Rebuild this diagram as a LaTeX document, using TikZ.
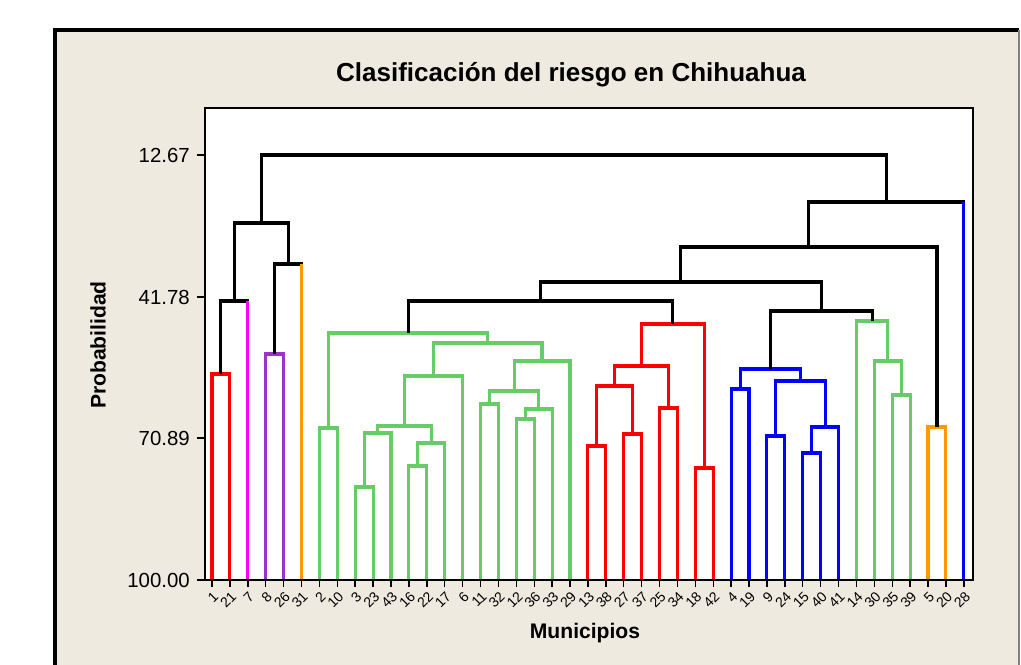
\documentclass[tikz,border=0pt]{standalone}
\usepackage{fontspec}
\setmainfont{Liberation Sans}
\usetikzlibrary{calc}
\definecolor{dgreen}{RGB}{102,204,102}
\definecolor{dred}{RGB}{255,0,0}
\definecolor{dmag}{RGB}{255,0,255}
\definecolor{dpur}{RGB}{153,51,204}
\definecolor{dora}{RGB}{255,153,0}
\definecolor{dblue}{RGB}{0,0,255}
\definecolor{framebg}{RGB}{238,234,224}
\newcommand\mrg[5]{%
  \coordinate (tmp) at ($(#2)!.5!(#3)$);
  \coordinate (#1) at (tmp |- 0,#4);
  \draw[link,#5] (#2) |- (#1) -| (#3);}
\begin{document}
\begin{tikzpicture}[x={(0.025cm,0)},y={(0,-0.025cm)},
  link/.style={line width=2.2pt},
  tick/.style={line width=1pt,black},
  xlab/.style={font=\fontsize{10}{10}\selectfont,rotate=45,anchor=east,inner sep=0pt},
  ylab/.style={font=\fontsize{14.5}{16}\selectfont,anchor=east,inner sep=0pt},
  axtitle/.style={font=\bfseries\fontsize{15}{17}\selectfont,inner sep=0pt}]
\useasboundingbox (0,0) rectangle (1021,665);
\fill[white] (0,0) rectangle (1021,665);
% outer frame
\fill[framebg] (55,30) rectangle (1019,665);
\draw[line width=2.2pt,black] (55,665) -- (55,30) -- (1019,30);
\draw[line width=0.8pt,gray] (1019,30) -- (1019,665);
% title
\node[font=\bfseries\fontsize{18.5}{20}\selectfont] (title) at (571,75) {Clasificación del riesgo en Chihuahua};
% plot area
\fill[white] (205,108) rectangle (973,580);
\draw[line width=1.2pt,black] (205,108) rectangle (973,580);
% leaves
\foreach \i in {0,...,42} \coordinate (L\i) at ({212+17.9*\i},580);
% x ticks and labels
\foreach \lab [count=\i from 0] in {1,21,7,8,26,31,2,10,3,23,43,16,22,17,6,11,32,12,36,33,29,13,38,27,37,25,34,18,42,4,19,9,24,15,40,41,14,30,35,39,5,20,28}{
  \draw[tick] (L\i) -- ++(0,7);
  \node[xlab] (t\i) at ($(L\i)+(4,14)$) {\lab};
}
% y ticks and labels
\foreach \v/\lab [count=\k] in {155/12.67,297/41.78,438/70.89,580/100.00}{
  \coordinate (y\k) at (205,\v);
  \draw[tick] (y\k) -- ++(-8,0);
  \node[ylab] (yl\k) at ($(y\k)+(-15,0)$) {\lab};
}
\node[axtitle,rotate=90] (ytitle) at (98,345) {Probabilidad};
\node[axtitle] (xtitle) at (585,633) {Municipios};
% left group
\mrg{m1}{L0}{L1}{374}{dred}
\mrg{m2}{m1}{L2}{301}{black}
\mrg{m3}{L3}{L4}{354}{dpur}
\mrg{m4}{m3}{L5}{264}{black}
\mrg{m5}{m2}{m4}{223}{black}
\draw[link,dmag] (L2) -- (L2 |- m2);
\draw[link,dora] (L5) -- (L5 |- m4);
% green cluster
\mrg{g1}{L6}{L7}{428}{dgreen}
\mrg{g2}{L8}{L9}{487}{dgreen}
\mrg{g3}{g2}{L10}{433}{dgreen}
\mrg{g4}{L11}{L12}{466}{dgreen}
\mrg{g5}{g4}{L13}{443}{dgreen}
\mrg{g6}{g3}{g5}{426}{dgreen}
\mrg{g7}{g6}{L14}{376}{dgreen}
\mrg{g8}{L15}{L16}{404}{dgreen}
\mrg{g9}{L17}{L18}{419}{dgreen}
\mrg{g10}{g9}{L19}{409}{dgreen}
\mrg{g11}{g8}{g10}{391}{dgreen}
\mrg{g12}{g11}{L20}{361}{dgreen}
\mrg{g13}{g7}{g12}{343}{dgreen}
\mrg{g14}{g1}{g13}{333}{dgreen}
% red cluster
\mrg{r1}{L21}{L22}{446}{dred}
\mrg{r2}{L23}{L24}{434}{dred}
\mrg{r3}{r1}{r2}{386}{dred}
\mrg{r4}{L25}{L26}{408}{dred}
\mrg{r5}{r3}{r4}{366}{dred}
\mrg{r6}{L27}{L28}{468}{dred}
\mrg{r7}{r5}{r6}{324}{dred}
\mrg{k1}{g14}{r7}{301}{black}
% blue cluster
\mrg{b1}{L29}{L30}{389}{dblue}
\mrg{b2}{L31}{L32}{436}{dblue}
\mrg{b3}{L33}{L34}{453}{dblue}
\mrg{b4}{b3}{L35}{427}{dblue}
\mrg{b5}{b2}{b4}{381}{dblue}
\mrg{b6}{b1}{b5}{369}{dblue}
% right green
\mrg{h1}{L38}{L39}{395}{dgreen}
\mrg{h2}{L37}{h1}{361}{dgreen}
\mrg{h3}{L36}{h2}{321}{dgreen}
\mrg{k2}{b6}{h3}{311}{black}
\mrg{k3}{k1}{k2}{282}{black}
\mrg{o1}{L40}{L41}{427}{dora}
\mrg{k4}{k3}{o1}{247}{black}
\mrg{k5}{k4}{L42}{202}{black}
\draw[link,dblue] (L42) -- (L42 |- k5);
\mrg{k6}{m5}{k5}{155}{black}
% redraw axis line on top
\draw[line width=1.2pt,black] (205,580) -- (973,580);
\end{tikzpicture}
\end{document}
